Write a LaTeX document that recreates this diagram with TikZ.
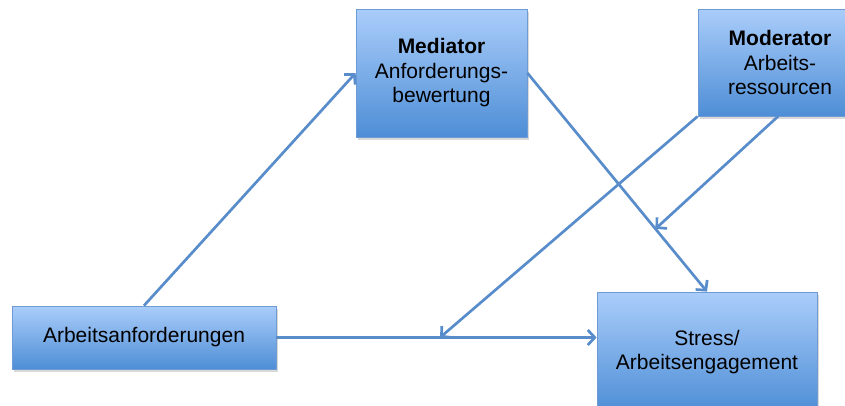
\documentclass[tikz,border=0pt]{standalone}
\usepackage{fontspec}
\setmainfont{Liberation Sans}
\usetikzlibrary{arrows.meta,shadows,calc}
\definecolor{boxtop}{RGB}{170,205,250}
\definecolor{boxbot}{RGB}{78,142,214}
\definecolor{boxline}{RGB}{110,155,212}
\definecolor{arrowc}{RGB}{88,140,202}
\tikzset{
  box/.style={rectangle, draw=boxline, line width=0.8pt,
    top color=boxtop, bottom color=boxbot,
    drop shadow={shadow xshift=1.5pt, shadow yshift=-2.5pt, opacity=0.25, fill=black!60},
    align=center, inner sep=0pt,
    font=\fontsize{21}{24.5}\selectfont, text=black},
  link/.style={draw=arrowc, line width=2.7pt,
    -{Straight Barb[length=7pt,width=15pt,line width=2.7pt]}},
}
\begin{document}
\begin{tikzpicture}[x=1pt,y=-1pt]
  \useasboundingbox (0,0) rectangle (845,405);
  \clip (0,0) rectangle (845,405);
  % boxes
  \node[box, minimum width=171pt, minimum height=128pt] (med) at (441.5,73)
    {\textbf{Mediator}\\Anforderungs-\\bewertung};
  \node[box, minimum width=164pt, minimum height=107pt] (mod) at (780,62.5)
    {\textbf{Moderator}\\Arbeits-\\ressourcen};
  \node[box, minimum width=264pt, minimum height=63pt] (arb) at (144,337.5)
    {Arbeitsanforderungen};
  \node[box, minimum width=220pt, minimum height=120pt] (str) at (707,352)
    {Stress/\\Arbeitsengagement};
  % target points of the moderator paths
  \coordinate (hx) at ($(arb.east)!0.511!(arb.east -| str.west)$);
  \coordinate (dx) at ($(med.east)!0.713!(str.north)$);
  % connectors
  \draw[link] (arb.north) -- (med.west);
  \draw[link] (med.east) -- (str.north);
  \draw[link] (arb.east) -- (arb.east -| str.west);
  \draw[link] (mod.south west) -- (hx);
  \draw[link] (mod.south -| 778,0) -- (dx);
\end{tikzpicture}
\end{document}
